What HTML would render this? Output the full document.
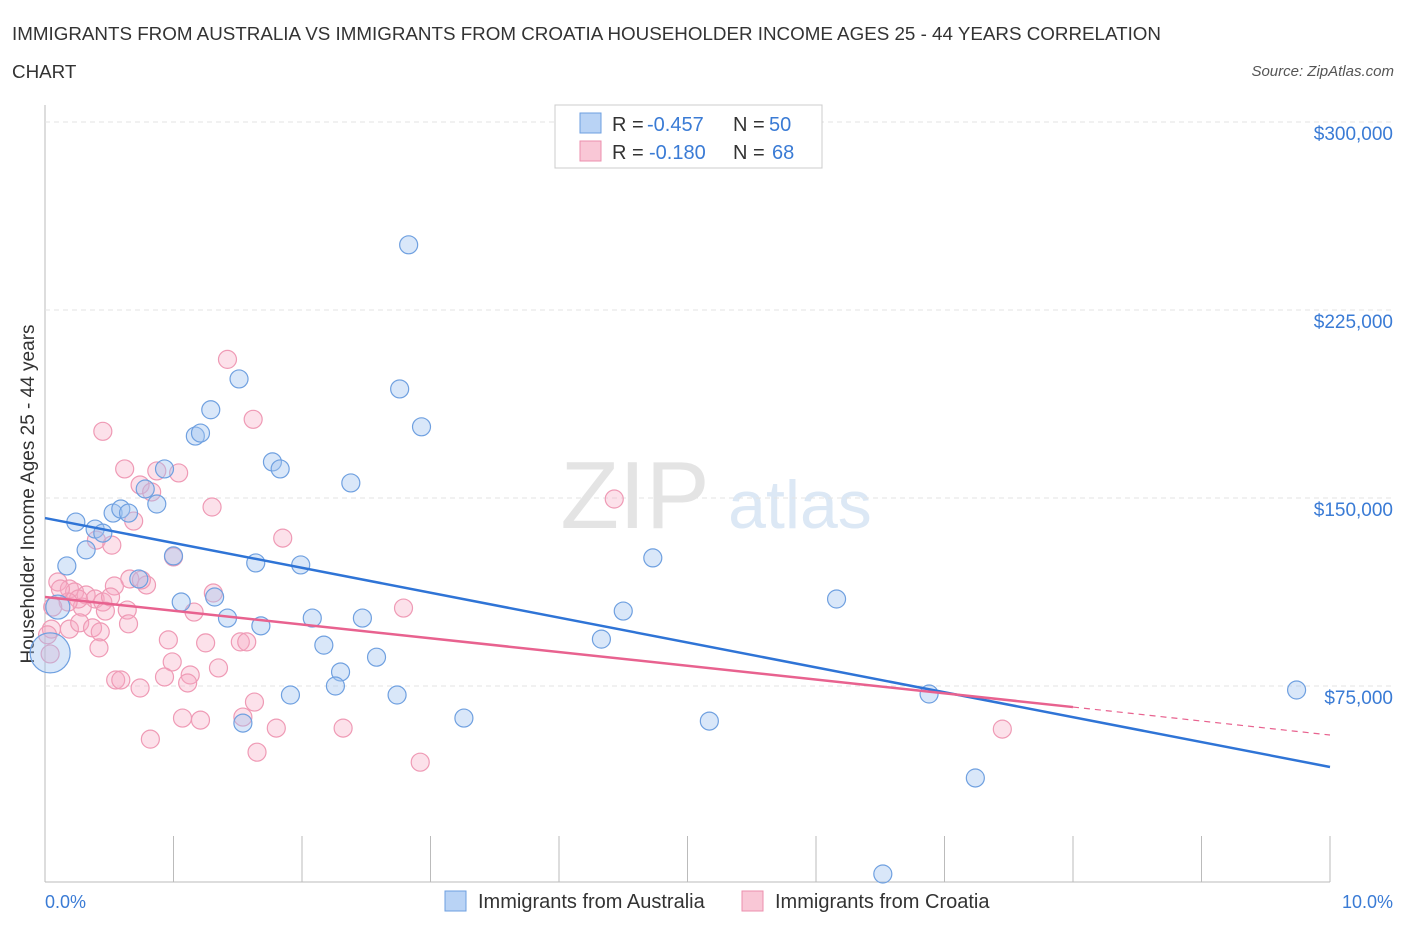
<!DOCTYPE html>
<html><head><meta charset="utf-8"><style>
body{margin:0;background:#fff;font-family:"Liberation Sans",sans-serif;}
svg text{font-family:"Liberation Sans",sans-serif;}
</style></head><body>
<svg id="c" width="1406" height="930" xmlns="http://www.w3.org/2000/svg">
<text x="12" y="40" font-size="18.8" fill="#333">IMMIGRANTS FROM AUSTRALIA VS IMMIGRANTS FROM CROATIA HOUSEHOLDER INCOME AGES 25 - 44 YEARS CORRELATION</text>
<text x="12" y="78" font-size="18.8" fill="#333">CHART</text>
<text x="1394" y="76" font-size="15" fill="#555" font-style="italic" text-anchor="end">Source: ZipAtlas.com</text>
<text x="635" y="528" font-size="96" fill="#e4e4e4" font-family="Liberation Serif" text-anchor="middle">ZIP</text>
<text x="800" y="528" font-size="68" fill="#dce8f5" text-anchor="middle">atlas</text>
<text transform="translate(34,494) rotate(-90)" font-size="19" fill="#333" text-anchor="middle">Householder Income Ages 25 - 44 years</text>
<g id="grid"></g><g id="pts"></g><g id="trend"></g>
<g>
<rect x="555" y="105" width="267" height="63" fill="#fff" stroke="#ccc"/>
<rect x="580" y="113" width="21" height="20" fill="#b9d3f5" stroke="#6d9fe0"/>
<rect x="580" y="141" width="21" height="20" fill="#f9c7d6" stroke="#ec8fae"/>
<text x="612" y="131" font-size="20" fill="#333">R =</text>
<text x="647" y="131" font-size="20" fill="#3a7bd5">-0.457</text>
<text x="733" y="131" font-size="20" fill="#333">N =</text>
<text x="769" y="131" font-size="20" fill="#3a7bd5">50</text>
<text x="612" y="159" font-size="20" fill="#333">R =</text>
<text x="649" y="159" font-size="20" fill="#3a7bd5">-0.180</text>
<text x="733" y="159" font-size="20" fill="#333">N =</text>
<text x="772" y="159" font-size="20" fill="#3a7bd5">68</text>
</g>
<rect x="445" y="891" width="21" height="20" fill="#b9d3f5" stroke="#6d9fe0"/>
<text x="478" y="908" font-size="20" fill="#333">Immigrants from Australia</text>
<rect x="742" y="891" width="21" height="20" fill="#f9c7d6" stroke="#ec8fae"/>
<text x="775" y="908" font-size="20" fill="#333">Immigrants from Croatia</text>
<text x="45" y="908" font-size="18" fill="#3a7bd5">0.0%</text>
<text x="1393" y="908" font-size="18" fill="#3a7bd5" text-anchor="end">10.0%</text>
</svg>
<script>
const yTicks=[75000,150000,225000,300000];
const yTickLabels=["$75,000","$150,000","$225,000","$300,000"];
const xTicks=[0,1,2,3,4,5,6,7,8,9,10];
const auX=[2.83,1.51,2.76,1.29,2.93,1.17,1.21,1.77,1.83,0.93,2.38,0.78,0.87,0.53,0.59,0.65,0.24,0.39,0.45,0.32,0.17,1.00,1.64,1.99,4.73,0.73,1.06,1.32,1.42,1.68,2.08,2.47,4.50,4.33,6.16,2.17,2.58,2.30,2.26,1.91,2.74,6.88,9.74,3.26,5.17,1.54,7.24,6.52,0.10,0.04];
const auY=[251000,197500,193500,185200,178400,174700,175900,164400,161600,161600,156000,153600,147600,144000,145600,144000,140400,137600,136000,129300,122900,126900,124100,123300,126100,117700,108500,110500,102100,99000,102100,102100,104900,93700,109700,91300,86500,80600,75000,71400,71400,71800,73400,62200,61000,60200,38300,0,106500,88200];
const auR=[9,9,9,9,9,9,9,9,9,9,9,9,9,9,9,9,9,9,9,9,9,9,9,9,9,9,9,9,9,9,9,9,9,9,9,9,9,9,9,9,9,9,9,9,9,9,9,9,12,20];
const crX=[1.42,1.62,0.45,0.62,0.87,1.04,0.74,0.83,4.43,1.30,0.69,0.40,0.52,1.85,1.00,0.10,0.19,0.23,0.32,0.39,0.45,0.66,0.79,0.75,0.54,1.31,0.29,0.47,1.16,2.79,0.64,0.26,0.18,0.06,0.05,0.19,0.27,0.65,0.37,0.43,0.42,0.96,1.25,1.52,1.57,1.35,0.99,1.13,0.55,0.59,0.93,1.11,0.74,1.63,1.07,1.21,1.54,1.80,2.32,0.82,1.65,2.92,7.45,0.02,0.04,0.12,0.51];
const crY=[205300,181400,176600,161600,160800,160000,155200,152400,149600,146400,140800,133200,131200,134000,126500,116500,113700,112500,111300,109700,108500,117700,115300,117300,114900,112100,106500,104900,104500,106100,105300,109700,108500,106500,97700,97700,100200,99800,98200,96600,90200,93400,92200,92600,92600,82200,84600,79400,77400,77400,78600,76200,74200,68600,62200,61400,62600,58200,58200,53800,48600,44600,57800,95400,87800,113700,110500];
const trendAuX=[0,10], trendAuY=[142000,42700];
const trendCrX=[0,8,10], trendCrY=[110500,66600,55450];
const NS="http://www.w3.org/2000/svg";
const X=v=>45+v*128.5, Y=v=>874-v*188/75000;
function mk(t,a,p){const e=document.createElementNS(NS,t);for(const k in a)e.setAttribute(k,a[k]);p.appendChild(e);return e;}
const grid=document.getElementById('grid');
mk('line',{x1:45,y1:105,x2:45,y2:882,stroke:'#bbb'},grid);
mk('line',{x1:45,y1:882,x2:1330,y2:882,stroke:'#bbb'},grid);
yTicks.forEach((t,i)=>{
 const g=mk('line',{x1:45,y1:Y(t),x2:1393,y2:Y(t),stroke:'#e3e3e3','stroke-dasharray':'5,4'},grid);
 
 
 const tx=mk('text',{x:1393,y:Y(t)+18,'font-size':19,fill:'#3a7bd5','text-anchor':'end'},grid);
 tx.textContent=yTickLabels[i];
 
 
});
xTicks.forEach(t=>{
 const l=mk('line',{x1:X(t),y1:836,x2:X(t),y2:882,stroke:'#bbb'},grid);
 
 
});
const pts=document.getElementById('pts');
crX.forEach((x,i)=>{
 const c=mk('circle',{cx:X(x),cy:Y(crY[i]),r:9,fill:'rgba(246,170,195,0.35)',stroke:'#ef9ab5','stroke-width':1.2},pts);
 
 
});
auX.forEach((x,i)=>{
 const c=mk('circle',{cx:X(x),cy:Y(auY[i]),r:auR[i],fill:'rgba(160,196,240,0.4)',stroke:'#6fa0e0','stroke-width':1.2},pts);
 
 
});
const tr=document.getElementById('trend');
const la=mk('line',{x1:X(trendAuX[0]),y1:Y(trendAuY[0]),x2:X(trendAuX[1]),y2:Y(trendAuY[1]),stroke:'#2f74d6','stroke-width':2.5},tr);


const lc=mk('line',{x1:X(trendCrX[0]),y1:Y(trendCrY[0]),x2:X(trendCrX[1]),y2:Y(trendCrY[1]),stroke:'#e8628f','stroke-width':2.5},tr);


const ld=mk('line',{x1:X(trendCrX[1]),y1:Y(trendCrY[1]),x2:X(trendCrX[2]),y2:Y(trendCrY[2]),stroke:'#e8628f','stroke-width':1.2,'stroke-dasharray':'6,5'},tr);


</script>
</body></html>
